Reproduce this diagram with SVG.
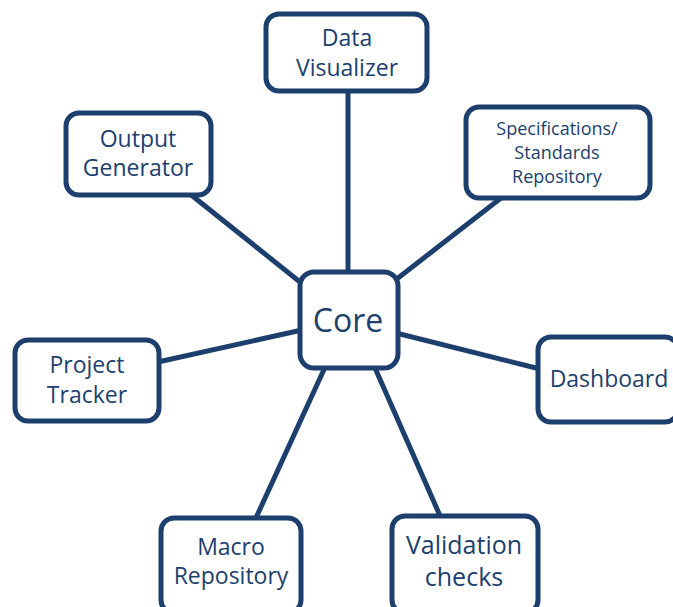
<svg xmlns="http://www.w3.org/2000/svg" width="673" height="607" viewBox="0 0 673 607">
<style>
.box{fill:#fff;stroke:#1d3f6e;stroke-width:5}
.ln{stroke:#1d3f6e;stroke-width:5;fill:none}
text{font-family:"Open Sans","Liberation Sans",sans-serif;fill:#1d3f6e;text-anchor:middle}
.t{font-size:23px}
</style>
<rect width="673" height="607" fill="#fff"/>
<g id="connectors">
<line class="ln" x1="348" y1="90" x2="348" y2="290"/>
<line class="ln" x1="190" y1="194" x2="320" y2="298"/>
<line class="ln" x1="501" y1="198" x2="380" y2="292"/>
<line class="ln" x1="158" y1="362" x2="320" y2="326"/>
<line class="ln" x1="380" y1="329" x2="540" y2="369"/>
<line class="ln" x1="332" y1="352" x2="255" y2="520"/>
<line class="ln" x1="368" y1="352" x2="441" y2="518"/>
</g>
<g id="data-visualizer">
<rect class="box" x="266" y="14" width="161" height="77" rx="13"/>
<text class="t" x="347" y="46">Data</text>
<text class="t" x="347" y="76">Visualizer</text>
</g>
<g id="output-generator">
<rect class="box" x="66" y="113" width="145" height="82" rx="13"/>
<text class="t" x="138" y="147">Output</text>
<text class="t" x="138" y="176">Generator</text>
</g>
<g id="specifications">
<rect class="box" x="466" y="107" width="184" height="91" rx="13"/>
<text x="557" y="135" font-size="18">Specifications/</text>
<text x="557" y="159" font-size="18">Standards</text>
<text x="557" y="183" font-size="18">Repository</text>
</g>
<g id="core">
<rect class="box" x="300" y="272" width="98" height="96" rx="14"/>
<text x="348" y="332" font-size="32">Core</text>
</g>
<g id="project-tracker">
<rect class="box" x="15" y="340" width="144" height="81" rx="13"/>
<text class="t" x="87" y="373">Project</text>
<text class="t" x="87" y="403">Tracker</text>
</g>
<g id="dashboard">
<rect class="box" x="538" y="337" width="140" height="85" rx="13"/>
<text class="t" x="609" y="387">Dashboard</text>
</g>
<g id="macro-repository">
<rect class="box" x="161" y="518" width="140" height="95" rx="13"/>
<text class="t" x="231" y="555">Macro</text>
<text class="t" x="231" y="584">Repository</text>
</g>
<g id="validation-checks">
<rect class="box" x="392" y="516" width="146" height="97" rx="13"/>
<text x="464" y="554" font-size="25">Validation</text>
<text x="464" y="586" font-size="25">checks</text>
</g>
</svg>
